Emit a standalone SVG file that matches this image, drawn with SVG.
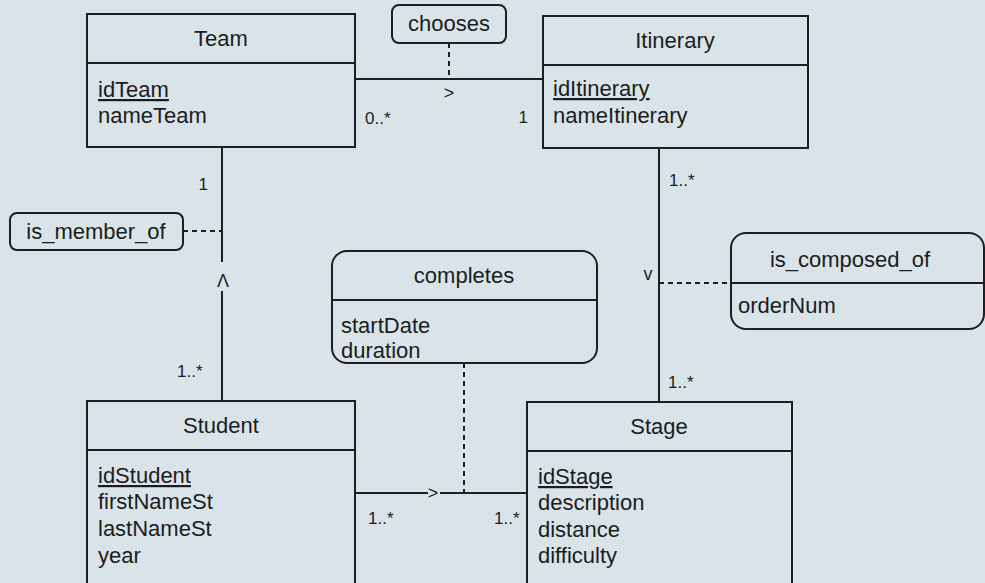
<svg xmlns="http://www.w3.org/2000/svg" width="985" height="583" viewBox="0 0 985 583">
<style>
  .bg { fill: #dae3e8; }
  .box { fill: #dae3e8; stroke: #1c1f22; stroke-width: 2; }
  .div { stroke: #1c1f22; stroke-width: 2; }
  .ln { stroke: #1c1f22; stroke-width: 2; fill: none; }
  .dash { stroke: #1c1f22; stroke-width: 2; fill: none; stroke-dasharray: 5 4; }
  text { font-family: "Liberation Sans", Arial, Helvetica, sans-serif; fill: #1a1d20; }
  .t { font-size: 22px; text-anchor: middle; }
  .a { font-size: 22px; }
  .u { text-decoration: underline; }
  .m { font-size: 17px; }
  .s { font-size: 18px; text-anchor: middle; }
</style>
<rect class="bg" x="0" y="0" width="985" height="583"/>

<g id="connectors">
  <line class="ln" x1="355" y1="79" x2="543" y2="79"/>
  <line class="dash" x1="449" y1="43" x2="449" y2="79"/>
  <text class="s" x="449" y="99">&gt;</text>
  <text class="m" x="365" y="124">0..*</text>
  <text class="m" x="528" y="123" text-anchor="end">1</text>

  <line class="ln" x1="222" y1="147" x2="222" y2="262"/>
  <line class="ln" x1="222" y1="291" x2="222" y2="401"/>
  <line class="dash" x1="183" y1="231" x2="222" y2="231"/>
  <text class="s" x="223" y="287">Λ</text>
  <text class="m" x="208" y="190" text-anchor="end">1</text>
  <text class="m" x="177" y="377">1..*</text>

  <line class="ln" x1="659" y1="148" x2="659" y2="402"/>
  <line class="dash" x1="659" y1="283" x2="731" y2="283"/>
  <text class="s" x="648" y="280">v</text>
  <text class="m" x="669" y="186">1..*</text>
  <text class="m" x="668" y="388">1..*</text>

  <line class="ln" x1="355" y1="493" x2="428" y2="493"/>
  <line class="ln" x1="440" y1="493" x2="527" y2="493"/>
  <text class="s" x="433" y="499">&gt;</text>
  <line class="dash" x1="464" y1="363" x2="464" y2="493"/>
  <text class="m" x="368" y="524">1..*</text>
  <text class="m" x="494" y="524">1..*</text>
</g>

<g id="Team">
  <rect class="box" x="87" y="14" width="268" height="133"/>
  <line class="div" x1="87" y1="63" x2="355" y2="63"/>
  <text class="t" x="221" y="46">Team</text>
  <text class="a u" x="98" y="97">idTeam</text>
  <text class="a" x="98" y="123">nameTeam</text>
</g>

<g id="chooses">
  <rect class="box" x="392" y="5" width="114" height="38" rx="7"/>
  <text class="t" x="449" y="31">chooses</text>
</g>

<g id="Itinerary">
  <rect class="box" x="543" y="16" width="265" height="132"/>
  <line class="div" x1="543" y1="65" x2="808" y2="65"/>
  <text class="t" x="675" y="48">Itinerary</text>
  <text class="a u" x="553" y="96">idItinerary</text>
  <text class="a" x="553" y="123">nameItinerary</text>
</g>

<g id="is_member_of">
  <rect class="box" x="10" y="213" width="173" height="37" rx="7"/>
  <text class="t" x="96" y="239">is_member_of</text>
</g>

<g id="completes">
  <rect class="box" x="332" y="251" width="265" height="112" rx="15"/>
  <line class="div" x1="332" y1="300" x2="597" y2="300"/>
  <text class="t" x="464" y="283">completes</text>
  <text class="a" x="341" y="333">startDate</text>
  <text class="a" x="341" y="358">duration</text>
</g>

<g id="is_composed_of">
  <rect class="box" x="731" y="233" width="253" height="96" rx="15"/>
  <line class="div" x1="731" y1="283" x2="984" y2="283"/>
  <text class="t" x="850" y="267">is_composed_of</text>
  <text class="a" x="738" y="313">orderNum</text>
</g>

<g id="Student">
  <rect class="box" x="87" y="401" width="268" height="200"/>
  <line class="div" x1="87" y1="450" x2="355" y2="450"/>
  <text class="t" x="221" y="433">Student</text>
  <text class="a u" x="98" y="483">idStudent</text>
  <text class="a" x="98" y="509">firstNameSt</text>
  <text class="a" x="98" y="536">lastNameSt</text>
  <text class="a" x="98" y="563">year</text>
</g>

<g id="Stage">
  <rect class="box" x="527" y="402" width="265" height="200"/>
  <line class="div" x1="527" y1="451" x2="792" y2="451"/>
  <text class="t" x="659" y="434">Stage</text>
  <text class="a u" x="538" y="484">idStage</text>
  <text class="a" x="538" y="510">description</text>
  <text class="a" x="538" y="537">distance</text>
  <text class="a" x="538" y="563">difficulty</text>
</g>
</svg>
